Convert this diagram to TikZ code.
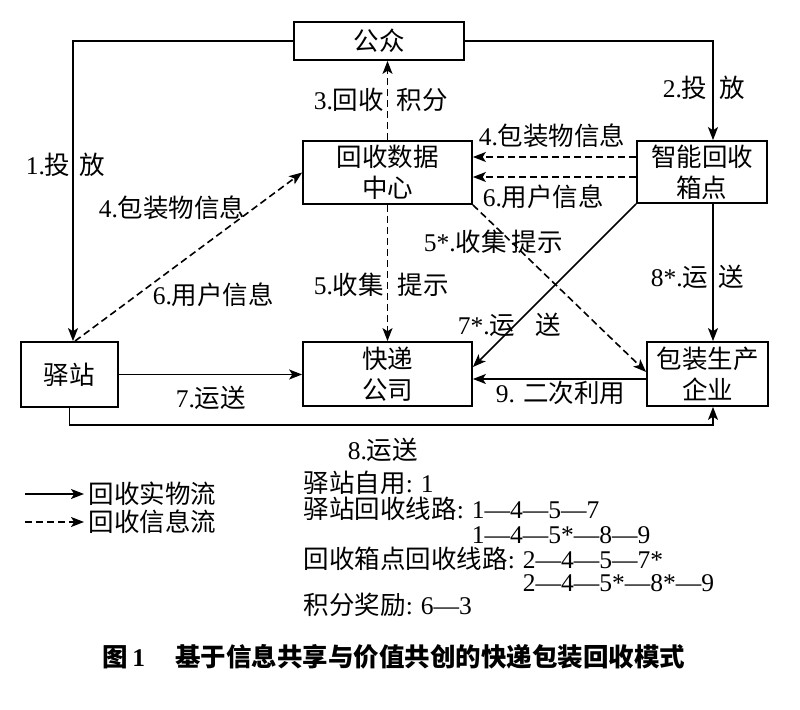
\documentclass[tikz,border=0pt]{standalone}
\usepackage{fontspec}
\setmainfont{Liberation Serif}
\newfontfamily\cjk{Noto Sans CJK SC}
\usetikzlibrary{arrows.meta,positioning}
% switch to the CJK font for Chinese characters
\XeTeXinterchartokenstate=1
\newXeTeXintercharclass\cjkclass
\newcount\cjkcode
\cjkcode="4E00
\loop
  \XeTeXcharclass\cjkcode=\cjkclass
  \advance\cjkcode by 1
\ifnum\cjkcode<"A000 \repeat
\XeTeXinterchartoks 0 \cjkclass={\cjk}
\XeTeXinterchartoks 4095 \cjkclass={\cjk}
\XeTeXinterchartoks \cjkclass 0={\rmfamily}
\XeTeXinterchartoks \cjkclass 4095={\rmfamily}
\newcommand{\cln}{:\hspace{4pt}}
\tikzset{
  box/.style={draw,line width=0.9pt,align=center,inner sep=0pt},
  lbl/.style={inner sep=0pt,anchor=west},
  info/.style={dash pattern=on 3.5pt off 2pt},
  route/.style={inner sep=0pt,anchor=west}
}
\begin{document}
\begin{tikzpicture}[x=0.5pt,y=-0.5pt,>={Stealth[length=6.5pt,width=5pt,inset=1.6pt]},
  font=\fontsize{12.75}{15.5}\selectfont,line width=0.8pt]
  \useasboundingbox (0,0) rectangle (800,710);
  % boxes
  \node[box,minimum width=85pt,minimum height=19pt] (gz) at (379,41) {公众};
  \node[box,minimum width=84.5pt,minimum height=31.5pt] (sjzx) at (387.5,172.5) {回收数据\\中心};
  \node[box,minimum width=65pt,minimum height=31pt] (xd) at (702,172) {智能回收\\箱点};
  \node[box,minimum width=48.5pt,minimum height=32.5pt] (yz) at (69.5,374.5) {驿站};
  \node[box,minimum width=84.5pt,minimum height=32pt] (kd) at (387.5,374) {快递\\公司};
  \node[box,minimum width=60.5pt,minimum height=32pt] (bz) at (707.5,374) {包装生产\\企业};
  % material flow
  \draw[->] (gz.west) -| ([xshift=1.75pt]yz.north);
  \draw[->] (gz.east) -| ([xshift=5.5pt]xd.north);
  \draw[->] (xd.south west) -- ([yshift=3.5pt]kd.east);
  \draw[->] ([xshift=5.5pt]xd.south) -- ([xshift=2.75pt]bz.north);
  \draw[->] (yz.east) -- (yz.east -| kd.west);
  \draw[->] ([yshift=-2.5pt]bz.west) -- ([yshift=-2.5pt]bz.west -| kd.east);
  \coordinate (rail) at (0,425);
  \draw[->] (yz.south) -- (yz.south |- rail) -| ([xshift=2.75pt]bz.south);
  % information flow
  \draw[->,info] (sjzx.north) -- (sjzx.north |- gz.south);
  \draw[->,info] ([yshift=7.5pt]xd.west) -- ([yshift=7.5pt]xd.west -| sjzx.east);
  \draw[->,info] ([yshift=-2.5pt]xd.west) -- ([yshift=-2.5pt]xd.west -| sjzx.east);
  \draw[->,info] ([xshift=2.75pt]yz.north) -- (sjzx.west);
  \draw[->,info] (sjzx.south) -- (kd.north);
  \draw[->,info] (sjzx.south east) -- ([yshift=1pt]bz.west);
  % labels
  \node[lbl] (l1) at (25,165) {1.投\hspace{4.5pt}放};
  \node[lbl] (l2) at (662,88) {2.投\hspace{6pt}放};
  \node[lbl] (l3) at (313,100) {3.回收\hspace{6.5pt}积分};
  \node[lbl] (l4r) at (478,136) {4.包装物信息};
  \node[lbl] (l6r) at (482,197) {6.用户信息};
  \node[lbl] (l4l) at (98,208) {4.包装物信息};
  \node[lbl] (l6l) at (152,295) {6.用户信息};
  \node[lbl] (l5) at (313,285) {5.收集\hspace{7pt}提示};
  \node[lbl] (l5s) at (423,242) {5*.收集\hspace{2.5pt}提示};
  \node[lbl] (l8s) at (650,277) {8*.运\hspace{5pt}送};
  \node[lbl] (l7s) at (457,325) {7*.运\hspace{10pt}送};
  \node[lbl] (l7) at (175,398) {7.运送};
  \node[lbl] (l9) at (495,393) {9. 二次利用};
  \node[lbl] (l8) at (347,450) {8.运送};
  % legend
  \coordinate (lgs) at (25,494);
  \node[lbl,inner xsep=2pt] (lgphys) at (84,494) {回收实物流};
  \draw[->] (lgs) -- (lgphys.west);
  \coordinate (lgd) at (25,522);
  \node[lbl,inner xsep=2pt] (lginfo) at (84,522) {回收信息流};
  \draw[->,info] (lgd) -- (lginfo.west);
  % routes
  \node[route] (r1) at (303,483) {驿站自用\cln 1};
  \node[route] (r2) at (303,509) {驿站回收线路\cln 1—4—5—7};
  \node[route] (r3) at (303,535) {\hphantom{驿站回收线路\cln}1—4—5*—8—9};
  \node[route] (r4) at (303,559) {回收箱点回收线路\cln 2—4—5—7*};
  \node[route] (r5) at (303,583) {\hphantom{回收箱点回收线路\cln}2—4—5*—8*—9};
  \node[route] (r6) at (303,605) {积分奖励\cln 6—3};
  % caption
  \node[font=\fontsize{12.75}{15}\selectfont\bfseries] (cap) at (394,657)
    {图\,1\hspace{15pt}基于信息共享与价值共创的快递包装回收模式};
\end{tikzpicture}
\end{document}
